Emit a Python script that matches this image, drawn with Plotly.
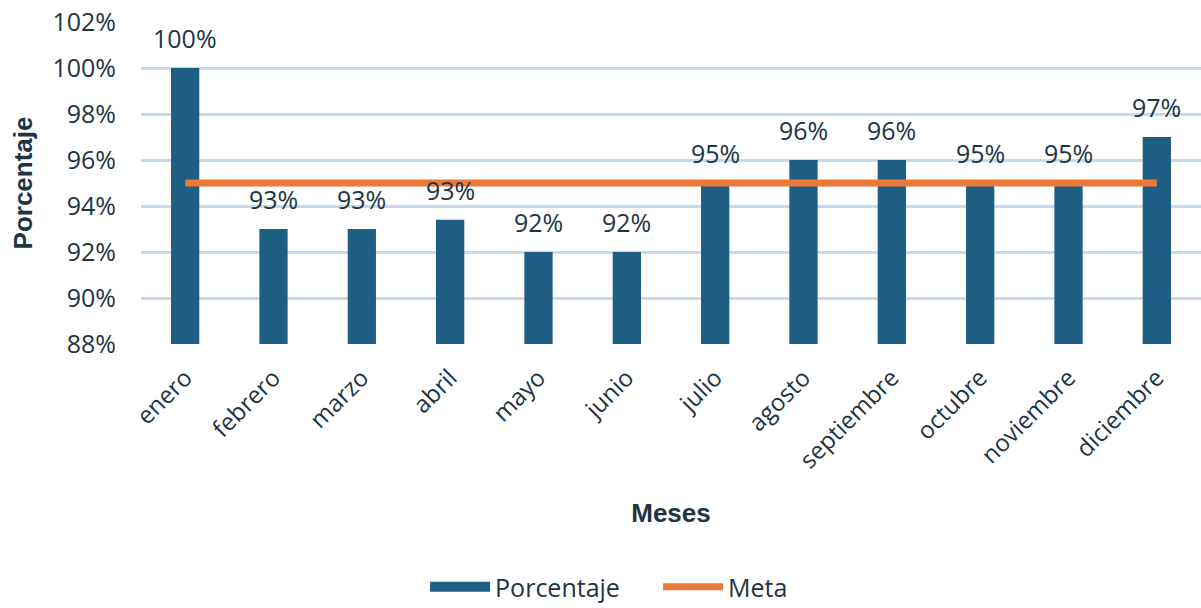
import plotly.graph_objects as go

meses = ["enero", "febrero", "marzo", "abril", "mayo", "junio", "julio",
         "agosto", "septiembre", "octubre", "noviembre", "diciembre"]
porcentaje = [100, 93, 93, 93.4, 92, 92, 95, 96, 96, 95, 95, 97]
meta = [95] * len(meses)

FONT = "Open Sans"
TITLE_FONT = "Liberation Sans"
TEXT = "#1e3443"
BAR = "#1d5e82"

fig = go.Figure()
fig.add_trace(go.Bar(
    x=meses, y=porcentaje, name="Porcentaje", showlegend=False,
    marker=dict(color=BAR, line=dict(width=0)),
    width=0.32,
))
# wide swatch for the bar series in the legend
fig.add_trace(go.Scatter(
    x=[None], y=[None], name="Porcentaje", mode="lines",
    line=dict(color=BAR, width=16),
))
fig.add_trace(go.Scatter(
    x=meses, y=meta, name="Meta", mode="lines",
    line=dict(color="#ee7838", width=7),
))

# value labels above each bar
for m, v in zip(meses, porcentaje):
    fig.add_annotation(x=m, y=v, text=f"{v:.0f}%", showarrow=False,
                       yanchor="bottom", yshift=11,
                       font=dict(family=FONT, size=25, color=TEXT))

fig.update_layout(
    width=1201, height=608,
    margin=dict(l=141, r=0, t=22, b=264, autoexpand=False),
    plot_bgcolor="white", paper_bgcolor="white",
    font=dict(family=FONT, size=22, color=TEXT),
    bargap=0.68,
    showlegend=True,
    legend=dict(orientation="h", x=0.268, xanchor="left", y=-0.755,
                yanchor="middle", font=dict(size=25, color=TEXT),
                itemwidth=60, entrywidth=158, tracegroupgap=0),
)
fig.update_yaxes(
    range=[88, 102], dtick=2, ticksuffix="%", automargin=False,
    showgrid=True, gridcolor="#c3daf0", gridwidth=2.5,
    zeroline=False, showline=False, ticks="",
    ticklabelstandoff=24,
    tickfont=dict(size=25, color=TEXT),
    title=dict(text="<b>Porcentaje</b>",
               font=dict(family=TITLE_FONT, size=26, color=TEXT), standoff=12),
)
fig.update_xaxes(
    tickangle=-45, showgrid=False, showline=False, ticks="", automargin=False,
    ticklabelstandoff=14,
    tickfont=dict(size=24, color=TEXT),
    title=dict(text="<b>Meses</b>",
               font=dict(family=TITLE_FONT, size=26, color=TEXT), standoff=29),
)

fig.write_html("out.html")
